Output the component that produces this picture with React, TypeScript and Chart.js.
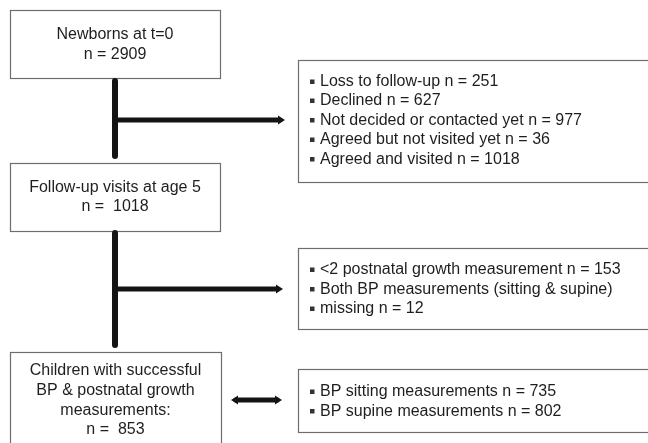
import React, { useEffect, useRef } from "react";
import { Chart, registerables } from "chart.js";

Chart.register(...registerables);

// Box rectangles [x1, y1, x2, y2] in diagram units
const mainBoxes = [
  [10, 10, 220, 78],
  [10, 163, 220, 231],
  [10, 352, 221, 447],
];
const sideBoxes = [
  [298, 60, 652, 182],
  [298, 248, 652, 329],
  [298, 369, 652, 432],
];

// Centered text in main boxes
const mainTexts = [
  ["Newborns at t=0", "n = 2909"],
  ["Follow-up visits at age 5", "n =  1018"],
  ["Children with successful", "BP & postnatal growth", "measurements:", "n =  853"],
];
const mainTextY = [
  [35, 55],
  [188, 207],
  [371, 391, 411, 430],
];

// Bullet lists in side boxes
const sideTexts = [
  [
    "Loss to follow-up n = 251",
    "Declined n = 627",
    "Not decided or contacted yet n = 977",
    "Agreed but not visited yet n = 36",
    "Agreed and visited n = 1018",
  ],
  [
    "<2 postnatal growth measurement n = 153",
    "Both BP measurements (sitting & supine)",
    "missing n = 12",
  ],
  ["BP sitting measurements n = 735", "BP supine measurements n = 802"],
];
const sideTextY = [
  [82, 101, 120.5, 140, 159.5],
  [270, 289.5, 309],
  [392, 411.5],
];

// Connectors: [x1, y1, x2, y2, width]
const connectors = [
  [115, 81, 115, 156, 6],
  [115, 120, 279, 120, 5],
  [115, 233, 115, 345, 6],
  [115, 289, 277, 289, 5],
  [236, 400, 277, 400, 5],
];
// Arrowheads: [tipX, y, direction]
const arrowHeads = [
  [285, 120, 1],
  [283, 289, 1],
  [282, 400, 1],
  [231, 400, -1],
];

const FONT = '"Liberation Sans", Arial, Helvetica, sans-serif';

const flowPlugin = {
  id: "flow",
  beforeDatasetsDraw(chart: any) {
    const { ctx, scales } = chart;
    const X = (v: number) => scales.x.getPixelForValue(v);
    const Y = (v: number) => scales.y.getPixelForValue(v);
    ctx.save();
    ctx.fillStyle = "#ffffff";
    ctx.fillRect(0, 0, chart.width, chart.height);
    ctx.strokeStyle = "#6e6e6e";
    ctx.lineWidth = 1.2;
    [...mainBoxes, ...sideBoxes].forEach((b) => {
      const x1 = Math.round(X(b[0])) + 0.5;
      const y1 = Math.round(Y(b[1])) + 0.5;
      const x2 = Math.round(X(b[2])) + 0.5;
      const y2 = Math.round(Y(b[3])) + 0.5;
      ctx.strokeRect(x1, y1, x2 - x1, y2 - y1);
    });
    ctx.restore();
  },
  afterDatasetsDraw(chart: any) {
    const { ctx, scales } = chart;
    const X = (v: number) => scales.x.getPixelForValue(v);
    const Y = (v: number) => scales.y.getPixelForValue(v);
    ctx.save();
    // arrowheads
    ctx.fillStyle = "#141414";
    arrowHeads.forEach((a) => {
      const tx = X(a[0]);
      const ty = Y(a[1]);
      const d = a[2];
      ctx.beginPath();
      ctx.moveTo(tx, ty);
      ctx.lineTo(tx - d * 7, ty - 4.5);
      ctx.lineTo(tx - d * 7, ty + 4.5);
      ctx.closePath();
      ctx.fill();
    });
    // main texts
    ctx.fillStyle = "#1e1e1e";
    ctx.font = `16px ${FONT}`;
    ctx.textBaseline = "middle";
    ctx.textAlign = "center";
    mainTexts.forEach((lines, i) => {
      const b = mainBoxes[i];
      const cx = X((b[0] + b[2]) / 2);
      lines.forEach((t, j) => ctx.fillText(t, cx, Y(mainTextY[i][j])));
    });
    // side texts
    ctx.textAlign = "left";
    sideTexts.forEach((lines, i) => {
      const b = sideBoxes[i];
      lines.forEach((t, j) => {
        const y = Y(sideTextY[i][j]);
        ctx.fillStyle = "#333333";
        ctx.fillRect(X(b[0] + 12), y - 2.5, 4.5, 4.5);
        ctx.fillStyle = "#1e1e1e";
        ctx.fillText(t, X(b[0] + 22), y);
      });
    });
    ctx.restore();
  },
};

export default function App() {
  const ref = useRef<HTMLCanvasElement>(null);
  useEffect(() => {
    document.body.style.margin = "0";
    const datasets = connectors.map((c) => ({
      type: "line" as const,
      data: [
        { x: c[0], y: c[1] },
        { x: c[2], y: c[3] },
      ],
      borderColor: "#141414",
      borderWidth: c[4],
      borderCapStyle: "round" as const,
      pointRadius: 0,
      showLine: true,
      fill: false,
    }));
    const chart = new Chart(ref.current as HTMLCanvasElement, {
      type: "scatter",
      data: { datasets },
      options: {
        animation: false,
        responsive: false,
        maintainAspectRatio: false,
        layout: { padding: 0 },
        plugins: { legend: { display: false }, tooltip: { enabled: false } },
        events: [],
        scales: {
          x: { type: "linear", min: 0, max: 648, display: false },
          y: { type: "linear", min: 0, max: 443, reverse: true, display: false },
        },
      },
      plugins: [flowPlugin],
    });
    return () => chart.destroy();
  }, []);
  return (
    <div style={{ position: "fixed", left: 0, top: 0, width: 648, height: 443, background: "#fff" }}>
      <canvas ref={ref} width={648} height={443} style={{ width: 648, height: 443, display: "block" }} />
    </div>
  );
}
